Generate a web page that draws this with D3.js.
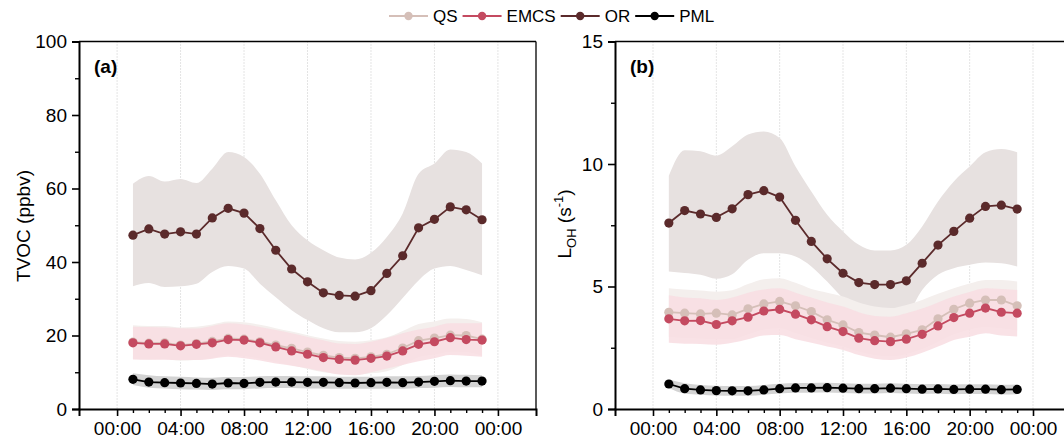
<!DOCTYPE html>
<html>
<head>
<meta charset="utf-8">
<script src="https://cdn.jsdelivr.net/npm/d3@7"></script>
<style>
  body { margin: 0; background: #fff; }
  svg { font-family: "Liberation Sans", Arial, sans-serif; }
</style>
</head>
<body>
<svg id="chart" width="1064" height="440"></svg>
<script>
// hour of day for each point
const hours = [1, 2, 3, 4, 5, 6, 7, 8, 9, 10, 11, 12, 13, 14, 15, 16, 17, 18, 19, 20, 21, 22, 23];
const xTickLabels = ["00:00", "04:00", "08:00", "12:00", "16:00", "20:00", "00:00"];

// panel (a) TVOC, ppbv
const orA = [47.3, 49.0, 47.6, 48.2, 47.6, 52.0, 54.6, 53.3, 49.1, 43.2, 38.1, 34.6, 31.6, 30.9, 30.7, 32.2, 36.9, 41.7, 49.3, 51.6, 55.0, 54.2, 51.5];
const orAHi = [61.3, 63.4, 61.9, 62.6, 61.5, 65.4, 69.9, 68.6, 64.0, 56.8, 50.0, 45.9, 43.2, 41.2, 40.7, 42.5, 46.8, 53.2, 64.0, 66.8, 70.6, 69.9, 66.8];
const orALo = [33.4, 34.3, 33.2, 33.4, 34.1, 37.3, 38.9, 38.2, 34.1, 30.4, 26.9, 24.2, 22.0, 20.9, 20.9, 22.0, 25.5, 30.2, 35.0, 38.2, 38.9, 37.8, 36.4];
const qsA = [18.2, 17.9, 18.0, 17.4, 17.8, 18.4, 19.2, 19.0, 18.3, 17.4, 16.5, 15.5, 14.6, 14.0, 13.8, 14.2, 14.9, 16.6, 18.6, 19.3, 20.1, 20.0, 19.0];
const qsAHi = [22.8, 22.6, 22.6, 22.2, 22.4, 23.0, 23.8, 23.6, 22.9, 22.0, 21.1, 20.1, 19.2, 18.5, 18.3, 18.7, 19.5, 21.2, 23.1, 23.8, 24.6, 24.5, 23.6];
const qsALo = [13.7, 13.5, 13.6, 13.1, 13.4, 13.9, 14.6, 14.4, 13.7, 12.8, 11.9, 10.9, 10.0, 9.5, 9.3, 9.7, 10.3, 12.0, 14.1, 14.8, 15.6, 15.5, 14.5];
const emcsA = [18.0, 17.7, 17.7, 17.2, 17.6, 18.0, 18.9, 18.75, 18.0, 16.9, 15.8, 14.9, 14.0, 13.5, 13.3, 13.8, 14.4, 15.8, 17.6, 18.3, 19.4, 18.9, 18.75];
const emcsAHi = [22.4, 22.3, 22.2, 22.0, 21.9, 22.6, 23.3, 23.0, 22.3, 21.5, 20.6, 19.6, 18.7, 17.8, 17.7, 18.3, 19.3, 20.6, 21.6, 22.4, 23.3, 23.3, 23.3];
const emcsALo = [13.5, 13.4, 13.4, 13.3, 13.3, 13.7, 14.2, 13.8, 13.2, 12.4, 11.8, 11.1, 10.2, 9.4, 9.2, 10.0, 11.0, 12.0, 13.0, 13.8, 14.7, 14.5, 14.2];
const pmlA = [8.07, 7.34, 7.16, 7.07, 6.97, 6.79, 7.07, 6.97, 7.25, 7.34, 7.34, 7.25, 7.25, 7.16, 7.07, 7.16, 7.25, 7.16, 7.34, 7.52, 7.70, 7.61, 7.61];
const pmlAHi = [9.7, 9.2, 8.9, 8.8, 8.6, 8.5, 8.7, 8.7, 8.9, 9.0, 9.0, 8.9, 8.9, 8.8, 8.8, 8.8, 8.9, 8.9, 9.0, 9.2, 9.4, 9.3, 9.2];
const pmlALo = [6.5, 5.8, 5.6, 5.4, 5.3, 5.2, 5.4, 5.4, 5.6, 5.7, 5.7, 5.6, 5.6, 5.5, 5.5, 5.5, 5.6, 5.5, 5.7, 5.8, 6.0, 5.9, 5.9];

// panel (b) L_OH, s-1
const orB = [7.59, 8.10, 7.96, 7.82, 8.17, 8.75, 8.91, 8.65, 7.70, 6.84, 6.13, 5.54, 5.16, 5.08, 5.08, 5.23, 5.95, 6.69, 7.25, 7.79, 8.27, 8.32, 8.16];
const orBHi = [9.52, 10.56, 10.52, 10.34, 10.72, 11.2, 11.33, 11.06, 9.90, 8.88, 7.93, 7.25, 6.70, 6.47, 6.47, 6.70, 7.45, 8.47, 9.29, 9.90, 10.48, 10.61, 10.48];
const orBLo = [5.61, 5.55, 5.48, 5.32, 5.50, 6.09, 6.36, 6.36, 6.22, 5.82, 5.20, 4.52, 3.98, 3.71, 3.67, 3.84, 4.86, 5.48, 5.75, 5.89, 5.98, 5.95, 5.82];
const qsB = [3.95, 3.91, 3.88, 3.91, 3.84, 4.09, 4.29, 4.39, 4.21, 3.98, 3.64, 3.43, 3.12, 3.02, 2.93, 3.07, 3.23, 3.68, 4.07, 4.32, 4.45, 4.45, 4.21];
const qsBHi = [4.93, 4.88, 4.84, 4.79, 4.85, 5.10, 5.30, 5.34, 5.15, 4.90, 4.75, 4.59, 4.35, 4.18, 4.12, 4.25, 4.45, 4.70, 4.93, 5.12, 5.27, 5.27, 5.20];
const qsBLo = [2.95, 2.90, 2.88, 2.85, 2.85, 3.05, 3.25, 3.30, 3.10, 2.90, 2.70, 2.55, 2.35, 2.20, 2.15, 2.25, 2.45, 2.75, 3.05, 3.25, 3.35, 3.30, 3.20];
const emcsB = [3.68, 3.60, 3.61, 3.45, 3.60, 3.75, 4.00, 4.07, 3.87, 3.64, 3.36, 3.16, 2.89, 2.79, 2.75, 2.85, 3.05, 3.39, 3.73, 3.91, 4.12, 3.95, 3.91];
const emcsBHi = [4.64, 4.55, 4.52, 4.45, 4.55, 4.75, 4.88, 4.93, 4.75, 4.55, 4.35, 4.18, 3.95, 3.80, 3.77, 3.91, 4.10, 4.35, 4.59, 4.78, 4.93, 4.90, 4.86];
const emcsBLo = [2.70, 2.66, 2.65, 2.62, 2.70, 2.85, 3.00, 3.02, 2.85, 2.70, 2.55, 2.41, 2.20, 2.05, 2.00, 2.10, 2.30, 2.55, 2.82, 2.95, 3.09, 3.00, 2.96];
const pmlB = [1.02, 0.83, 0.78, 0.75, 0.74, 0.74, 0.78, 0.83, 0.86, 0.86, 0.87, 0.85, 0.83, 0.83, 0.85, 0.83, 0.81, 0.82, 0.80, 0.81, 0.81, 0.79, 0.80];
const pmlBHi = [1.20, 1.05, 0.98, 0.95, 0.94, 0.94, 0.98, 1.03, 1.06, 1.06, 1.07, 1.05, 1.03, 1.03, 1.05, 1.03, 1.01, 1.02, 1.00, 1.01, 1.01, 0.99, 1.00];
const pmlBLo = [0.86, 0.63, 0.58, 0.55, 0.54, 0.54, 0.58, 0.63, 0.66, 0.66, 0.67, 0.65, 0.63, 0.63, 0.65, 0.63, 0.61, 0.62, 0.60, 0.61, 0.61, 0.59, 0.60];

const seriesNames = ["QS", "EMCS", "OR", "PML"];
const lineColors = {QS: "#d5bfb8", EMCS: "#c44a60", OR: "#5b2a2b", PML: "#000000"};
const bandColors = {QS: "#f4efed", EMCS: "#f8dde2", OR: "#e7e1e0", PML: "#d3d3d3"};

const svg = d3.select("#chart");

function drawPanel(opt) {
    const g = svg.append("g");
    const x = d3.scaleLinear().domain([-2.4, 26.4]).range([opt.left, opt.right]);
    const y = d3.scaleLinear().domain([0, opt.yMax]).range([409, 41.5]);

    // dotted vertical grid at major ticks
    g.selectAll(".grid").data([0, 4, 8, 12, 16, 20, 24]).enter().append("line")
        .attr("x1", d => x(d)).attr("x2", d => x(d))
        .attr("y1", y(opt.yMax)).attr("y2", y(0))
        .attr("stroke", "#c9c9c9").attr("stroke-width", 1)
        .attr("stroke-dasharray", "1,2");

    const area = d3.area()
        .x((d, i) => x(hours[i]))
        .y0(d => y(d[0])).y1(d => y(d[1]))
        .curve(d3.curveMonotoneX);
    const line = d3.line()
        .x((d, i) => x(hours[i]))
        .y(d => y(d));

    // bands: OR, QS, EMCS, PML
    ["OR", "QS", "EMCS", "PML"].forEach(k => {
        const s = opt.data[k];
        g.append("path")
            .datum(s.lo.map((v, i) => [v, s.hi[i]]))
            .attr("fill", bandColors[k])
            .attr("fill-opacity", k === "EMCS" ? 0.85 : 1)
            .attr("d", area);
    });

    // lines with markers
    ["QS", "EMCS", "OR", "PML"].forEach(k => {
        const s = opt.data[k];
        g.append("path")
            .datum(s.mean)
            .attr("fill", "none")
            .attr("stroke", lineColors[k])
            .attr("stroke-width", 1.8)
            .attr("d", line);
        g.selectAll(".pt" + k).data(s.mean).enter().append("circle")
            .attr("cx", (d, i) => x(hours[i]))
            .attr("cy", d => y(d))
            .attr("r", 4.6)
            .attr("fill", lineColors[k]);
    });

    // frame top / right
    g.append("line").attr("x1", opt.left).attr("x2", opt.right)
        .attr("y1", y(opt.yMax)).attr("y2", y(opt.yMax))
        .attr("stroke", "#000").attr("stroke-width", 1.3);
    g.append("line").attr("x1", opt.right).attr("x2", opt.right)
        .attr("y1", y(opt.yMax)).attr("y2", y(0))
        .attr("stroke", "#000").attr("stroke-width", 1.3);

    // x axis
    const xAxis = g.append("g")
        .attr("transform", "translate(0,409)")
        .call(d3.axisBottom(x).tickValues([0, 4, 8, 12, 16, 20, 24])
            .tickFormat((d, i) => xTickLabels[i]).tickSizeOuter(0).tickSize(7).tickPadding(6));
    xAxis.select(".domain").attr("stroke-width", 2);
    xAxis.selectAll(".tick line").attr("stroke-width", 1.6);
    xAxis.selectAll("text").attr("font-size", 19).attr("fill", "#000")
        .attr("font-family", "Liberation Sans, Arial, sans-serif");
    g.append("g")
        .attr("transform", "translate(0,409)")
        .call(d3.axisBottom(x).tickValues(d3.range(0, 25).filter(h => h % 4 !== 0))
            .tickFormat("").tickSize(4).tickSizeOuter(0))
        .call(a => a.select(".domain").remove())
        .selectAll("line").attr("stroke-width", 1.4);

    // y axis
    const yAxis = g.append("g")
        .attr("transform", "translate(" + opt.left + ",0)")
        .call(d3.axisLeft(y).tickValues(opt.yTicks).tickSizeOuter(0).tickSize(7).tickPadding(5));
    yAxis.select(".domain").attr("stroke-width", 2);
    yAxis.selectAll(".tick line").attr("stroke-width", 1.6);
    yAxis.selectAll("text").attr("font-size", 19).attr("fill", "#000")
        .attr("font-family", "Liberation Sans, Arial, sans-serif");
    g.append("g")
        .attr("transform", "translate(" + opt.left + ",0)")
        .call(d3.axisLeft(y).tickValues(opt.yMinor).tickFormat("").tickSize(4).tickSizeOuter(0))
        .call(a => a.select(".domain").remove())
        .selectAll("line").attr("stroke-width", 1.4);

    // panel label
    g.append("text").attr("x", opt.left + 15).attr("y", 73)
        .attr("font-size", 19).attr("font-weight", "bold").text(opt.label);

    return g;
}

drawPanel({
    left: 79, right: 536, yMax: 100,
    yTicks: [0, 20, 40, 60, 80, 100], yMinor: [10, 30, 50, 70, 90],
    label: "(a)",
    data: {
        OR: {mean: orA, hi: orAHi, lo: orALo},
        QS: {mean: qsA, hi: qsAHi, lo: qsALo},
        EMCS: {mean: emcsA, hi: emcsAHi, lo: emcsALo},
        PML: {mean: pmlA, hi: pmlAHi, lo: pmlALo}
    }
});

drawPanel({
    left: 615, right: 1071, yMax: 15,
    yTicks: [0, 5, 10, 15], yMinor: [2.5, 7.5, 12.5],
    label: "(b)",
    data: {
        OR: {mean: orB, hi: orBHi, lo: orBLo},
        QS: {mean: qsB, hi: qsBHi, lo: qsBLo},
        EMCS: {mean: emcsB, hi: emcsBHi, lo: emcsBLo},
        PML: {mean: pmlB, hi: pmlBHi, lo: pmlBLo}
    }
});

// y axis titles
svg.append("text")
    .attr("transform", "translate(30,226) rotate(-90)")
    .attr("text-anchor", "middle").attr("font-size", 19)
    .text("TVOC (ppbv)");

const tB = svg.append("text")
    .attr("transform", "translate(571,224) rotate(-90)")
    .attr("text-anchor", "middle").attr("font-size", 19);
tB.append("tspan").text("L");
tB.append("tspan").attr("font-size", 13).attr("dy", 5).text("OH");
tB.append("tspan").attr("dy", -5).text(" (s");
tB.append("tspan").attr("font-size", 13).attr("dy", -8).text("-1");
tB.append("tspan").attr("dy", 8).text(")");

// legend
const legend = svg.append("g").attr("transform", "translate(389,16)");
let lx = 0;
seriesNames.forEach(k => {
    const item = legend.append("g").attr("transform", "translate(" + lx + ",0)");
    item.append("line").attr("x1", 0).attr("x2", 39).attr("y1", 0).attr("y2", 0)
        .attr("stroke", lineColors[k]).attr("stroke-width", 2);
    item.append("circle").attr("cx", 19.5).attr("cy", 0).attr("r", 4.2).attr("fill", lineColors[k]);
    const t = item.append("text").attr("x", 44).attr("y", 6).attr("font-size", 17).text(k);
    lx += 44 + t.node().getComputedTextLength() + 5;
});
</script>
</body>
</html>
